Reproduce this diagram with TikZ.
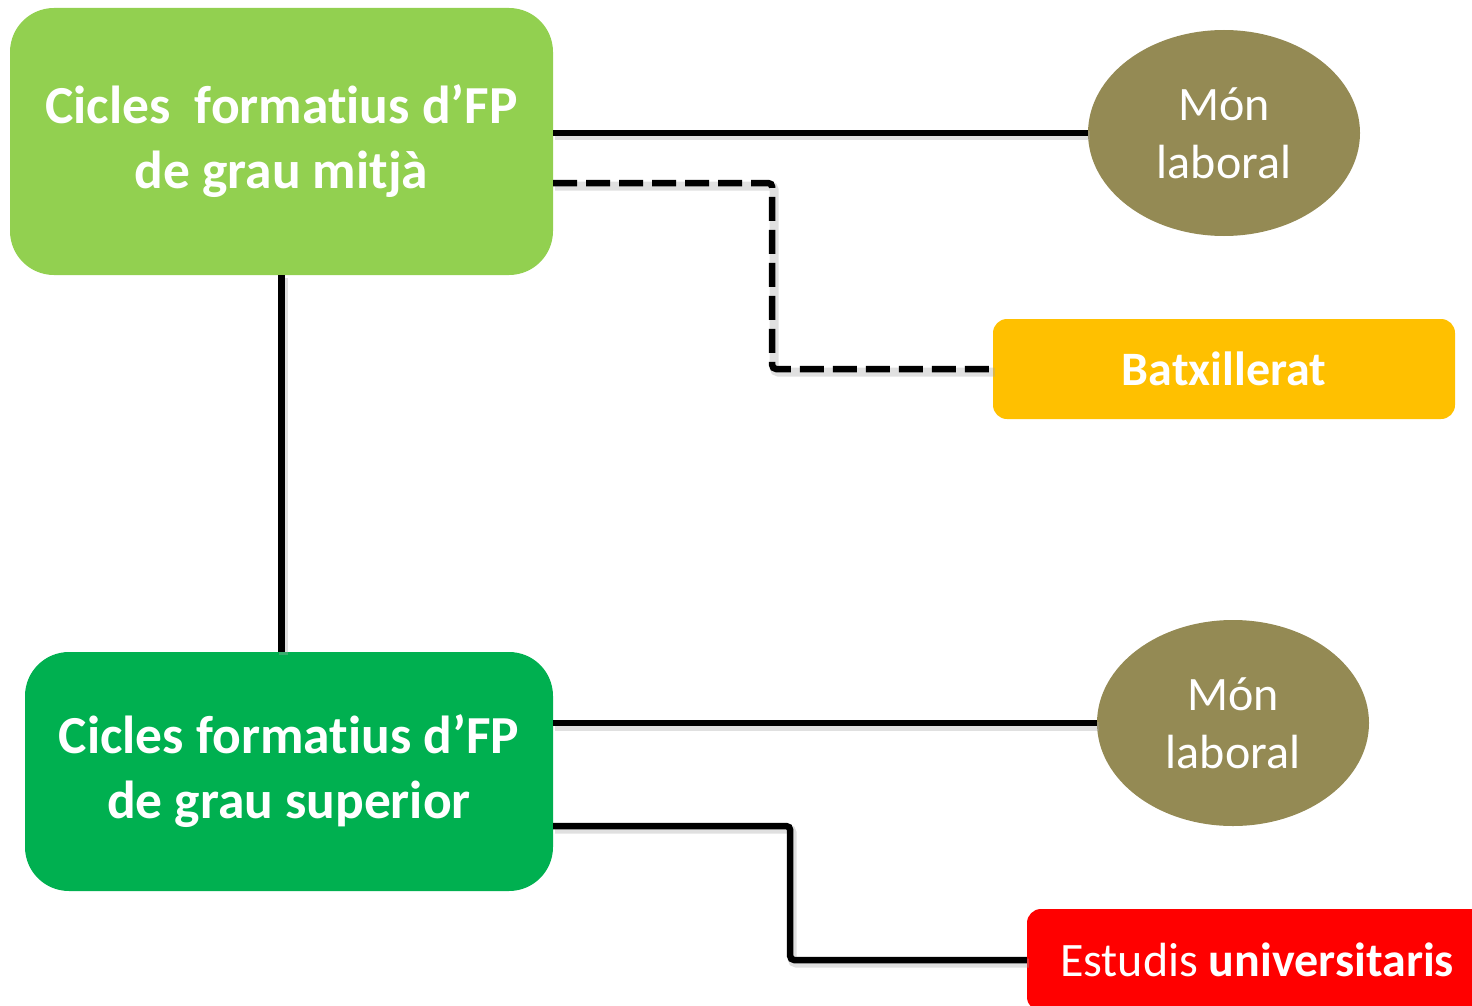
\documentclass[tikz,border=0pt]{standalone}
\usepackage{fontspec}
\setmainfont{Carlito}[Ligatures={NoCommon,NoDiscretionary,NoContextual}]
\usetikzlibrary{calc,shapes.geometric}
\definecolor{lgreen}{HTML}{92D050}
\definecolor{dgreen}{HTML}{00B050}
\definecolor{olive}{HTML}{948A54}
\definecolor{gold}{HTML}{FFC000}
\definecolor{redbox}{HTML}{FF0000}
\tikzset{
  boxbig/.style={rounded corners=44pt, text=white, font=\fontsize{53.5}{65}\selectfont\bfseries, align=center, inner sep=0pt},
  oval/.style={ellipse, fill=olive, text=white, minimum width=272pt, minimum height=206pt, inner sep=0pt, align=center, font=\fontsize{48}{58}\selectfont},
  smallbox/.style={rounded corners=14pt, text=white, inner sep=0pt, font=\fontsize{48}{54}\selectfont},
  conn/.style={line width=6.5pt, rounded corners=4pt,
    preaction={draw=black!35, opacity=0.35, line width=9pt, transform canvas={shift={(2pt,-3pt)}}}},
}
\begin{document}
\begin{tikzpicture}[x=1pt,y=-1pt]
\useasboundingbox (0,0) rectangle (1472,1006);
\clip (0,0) rectangle (1472,1006);
% nodes
\node[boxbig, fill=lgreen, minimum width=543pt, minimum height=267pt] (top) at (281.5,141.5) {Cicles\ \ formatius d’FP\\de grau mitjà};
\node[boxbig, fill=dgreen, minimum width=528pt, minimum height=239pt] (bot) at (289,771.5) {Cicles formatius d’FP\\de grau superior};
\node[oval] (mon1) at (1224,133) {Món\\laboral};
\node[oval] (mon2) at (1233,723) {Món\\laboral};
\node[smallbox, fill=gold, minimum width=462pt, minimum height=100pt, font=\fontsize{48}{54}\selectfont\bfseries] (bat) at (1224,369) {Batxillerat};
\node[smallbox, fill=redbox, minimum width=460pt, minimum height=102pt] (uni) at (1257,960) {Estudis \textbf{universitaris}};
% connectors
\draw[conn] (top.east |- mon1.west) -- (mon1.west);
\draw[conn, dash pattern=on 24pt off 9pt] ([yshift=-41.5pt]top.east) -- ++(219,0) |- (bat.west);
\draw[conn] (top.south) -- (top.south |- bot.north);
\draw[conn] (bot.east |- mon2.west) -- (mon2.west);
\draw[conn] ([yshift=-54.5pt]bot.east) -- ++(237,0) |- (uni.west);
\end{tikzpicture}
\end{document}
